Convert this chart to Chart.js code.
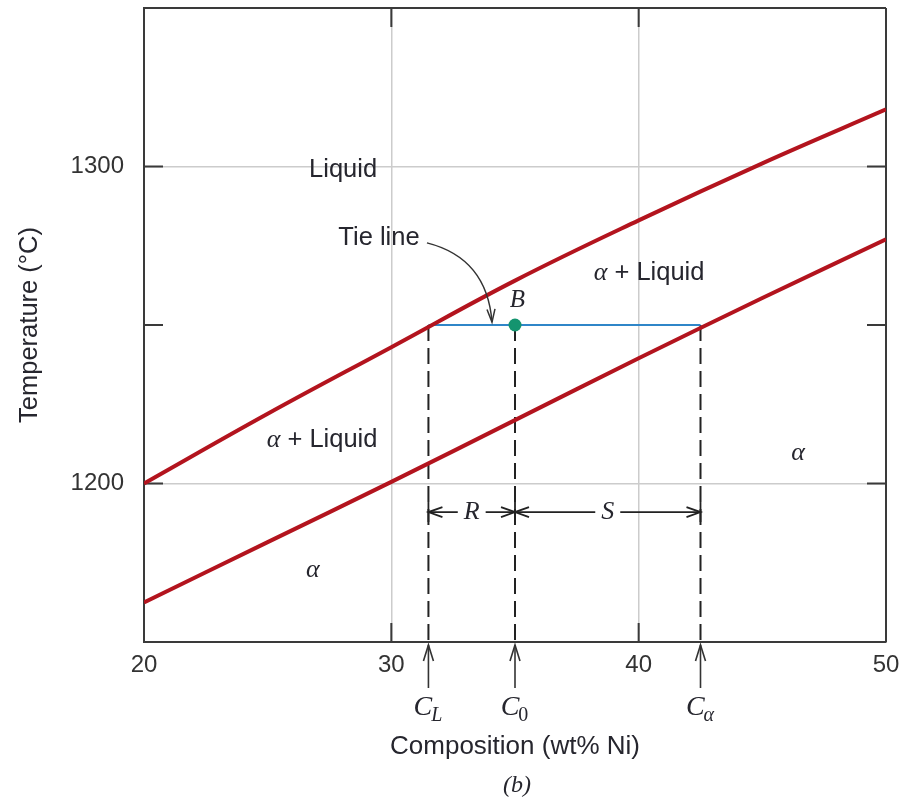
<!DOCTYPE html>
<html>
<head>
<meta charset="utf-8">
<script src="https://cdn.jsdelivr.net/npm/chart.js@4.4.0/dist/chart.umd.min.js"></script>
<style>
  html, body { margin: 0; padding: 0; background: #fff; }
  #wrap { width: 903px; height: 798px; position: relative; }
</style>
</head>
<body>
<div id="wrap"><canvas id="chart"></canvas></div>
<script>
// phase boundaries (wt% Ni, °C)
const composition = [20, 25, 30, 35, 40, 45, 50];
const liquidus = [1200, 1222, 1243, 1264, 1283, 1301, 1318];
const solidus  = [1162.5, 1181.5, 1200.5, 1220, 1239.5, 1258.5, 1277];

const xTicks = [20, 30, 40, 50];
const yTicks = [1150, 1200, 1250, 1300, 1350];
const yLabels = [1200, 1300];
const gridX = [30, 40];
const gridY = [1200, 1300];

// tie line at point B
const tieTemp = 1250;
const cL = 31.5, c0 = 35, cAlpha = 42.5;
const leverTemp = 1191;

const sans = '"Liberation Sans", Arial, sans-serif';
const serif = '"Liberation Serif", "DejaVu Serif", serif';
const red = '#b3141e';
const ink = '#26262e';

function pts(xs, ys) {
    return xs.map((x, i) => ({ x: x, y: ys[i] }));
}

function dashedDrop(x) {
    return {
        data: [{ x: x, y: tieTemp }, { x: x, y: 1150 }],
        showLine: true, borderColor: '#222', borderWidth: 2,
        borderDash: [16, 7], pointRadius: 0, order: 5
    };
}

// text labels placed in data coordinates
const regionLabels = [
    { parts: [['Liquid', 'n']], x: 28.05, y: 1299 },
    { parts: [['Tie line', 'n']], x: 29.5, y: 1277.5 },
    { parts: [['α', 'g'], [' + Liquid', 'n']], x: 40.42, y: 1266.4 },
    { parts: [['α', 'g'], [' + Liquid', 'n']], x: 27.2, y: 1213.7 },
    { parts: [['α', 'g']], x: 26.83, y: 1172.7 },
    { parts: [['α', 'g']], x: 46.44, y: 1209.6 },
    { parts: [['B', 'i']], x: 35.1, y: 1257.6 }
];
const tieArrow = { x0: 31.44, y0: 1275.9, cx: 33.87, cy: 1271.1, x1: 34.07, y1: 1250.9 };

function fontFor(kind) {
    if (kind === 'g') return 'italic 26px ' + serif;
    if (kind === 'i') return 'italic 25px ' + serif;
    return '25.5px ' + sans;
}

function drawParts(ctx, parts, cx, cy) {
    let w = 0;
    parts.forEach(p => { ctx.font = fontFor(p[1]); w += ctx.measureText(p[0]).width; });
    let x = cx - w / 2;
    ctx.textAlign = 'left';
    ctx.textBaseline = 'middle';
    parts.forEach(p => {
        ctx.font = fontFor(p[1]);
        ctx.fillText(p[0], x, cy);
        x += ctx.measureText(p[0]).width;
    });
}

function chevron(ctx, tx, ty, dx, dy, len, half) {
    // open arrow head with tip at (tx,ty) pointing along (dx,dy)
    const n = Math.hypot(dx, dy); dx /= n; dy /= n;
    const bx = tx - dx * len, by = ty - dy * len;
    ctx.beginPath();
    ctx.moveTo(bx - dy * half, by + dx * half);
    ctx.lineTo(tx, ty);
    ctx.lineTo(bx + dy * half, by - dx * half);
    ctx.stroke();
}

const framePlugin = {
    id: 'frame',
    beforeDatasetsDraw(chart) {
        const { ctx, chartArea: a, scales: { x, y } } = chart;
        ctx.save();
        ctx.strokeStyle = '#3a3a3a';
        ctx.lineWidth = 2;
        ctx.beginPath();
        ctx.moveTo(a.left, a.top); ctx.lineTo(a.right, a.top);
        ctx.moveTo(a.right, a.top); ctx.lineTo(a.right, a.bottom);
        xTicks.forEach(v => {
            const px = x.getPixelForValue(v);
            ctx.moveTo(px, a.bottom); ctx.lineTo(px, a.bottom - 19);
            ctx.moveTo(px, a.top); ctx.lineTo(px, a.top + 19);
        });
        [1200, 1250, 1300].forEach(v => {
            const py = y.getPixelForValue(v);
            ctx.moveTo(a.left, py); ctx.lineTo(a.left + 19, py);
            ctx.moveTo(a.right, py); ctx.lineTo(a.right - 19, py);
        });
        ctx.stroke();
        ctx.restore();
    },
    afterDatasetsDraw(chart) {
        const { ctx, chartArea: a, scales: { x, y } } = chart;
        ctx.save();
        ctx.fillStyle = ink;
        regionLabels.forEach(l => drawParts(ctx, l.parts, x.getPixelForValue(l.x), y.getPixelForValue(l.y)));

        // curved arrow pointing at the tie line
        ctx.strokeStyle = '#333';
        ctx.lineWidth = 1.5;
        const sx = x.getPixelForValue(tieArrow.x0), sy = y.getPixelForValue(tieArrow.y0);
        const qx = x.getPixelForValue(tieArrow.cx), qy = y.getPixelForValue(tieArrow.cy);
        const ex = x.getPixelForValue(tieArrow.x1), ey = y.getPixelForValue(tieArrow.y1);
        ctx.beginPath();
        ctx.moveTo(sx, sy);
        ctx.quadraticCurveTo(qx, qy, ex, ey);
        ctx.stroke();
        chevron(ctx, ex, ey, ex - qx, ey - qy, 13, 4);

        // R and S lever arms
        const ly = y.getPixelForValue(leverTemp);
        ctx.strokeStyle = '#222';
        ctx.lineWidth = 1.8;
        const ends = [cL, c0, cAlpha].map(v => x.getPixelForValue(v));
        ends.forEach(px => {
            ctx.beginPath(); ctx.moveTo(px, ly - 10); ctx.lineTo(px, ly + 10); ctx.stroke();
        });
        [['R', ends[0], ends[1]], ['S', ends[1], ends[2]]].forEach(seg => {
            const mid = (seg[1] + seg[2]) / 2;
            ctx.font = 'italic 26px ' + serif;
            const half = ctx.measureText(seg[0]).width / 2 + 6;
            ctx.beginPath();
            ctx.moveTo(seg[1], ly); ctx.lineTo(mid - half, ly);
            ctx.moveTo(mid + half, ly); ctx.lineTo(seg[2], ly);
            ctx.stroke();
            chevron(ctx, seg[1], ly, -1, 0, 14, 5);
            chevron(ctx, seg[2], ly, 1, 0, 14, 5);
            ctx.textAlign = 'center';
            ctx.textBaseline = 'middle';
            ctx.fillText(seg[0], mid, ly);
        });

        // composition arrows below the axis
        ctx.strokeStyle = '#333';
        ctx.lineWidth = 1.6;
        const subs = [['L', 'italic'], ['0', ''], ['α', 'italic']];
        ends.forEach((px, i) => {
            ctx.beginPath();
            ctx.moveTo(px, a.bottom + 46); ctx.lineTo(px, a.bottom + 3);
            ctx.stroke();
            chevron(ctx, px, a.bottom + 3, 0, -1, 16, 5);
            ctx.font = 'italic 28px ' + serif;
            const wc = ctx.measureText('C').width;
            ctx.font = subs[i][1] + ' 20px ' + serif;
            const ws = ctx.measureText(subs[i][0]).width;
            const left = px - (wc + ws) / 2;
            ctx.textAlign = 'left';
            ctx.textBaseline = 'alphabetic';
            ctx.font = 'italic 28px ' + serif;
            ctx.fillText('C', left, a.bottom + 73);
            ctx.font = subs[i][1] + ' 20px ' + serif;
            ctx.fillText(subs[i][0], left + wc - 1, a.bottom + 79);
        });

        // axis titles and caption
        ctx.textAlign = 'center';
        ctx.textBaseline = 'alphabetic';
        ctx.font = '26px ' + sans;
        ctx.fillText('Composition (wt% Ni)', x.getPixelForValue(c0), a.bottom + 112);
        ctx.font = 'italic 24px ' + serif;
        ctx.fillText('(b)', x.getPixelForValue(c0) + 2, a.bottom + 150);
        ctx.translate(30, y.getPixelForValue(1250));
        ctx.rotate(-Math.PI / 2);
        ctx.textBaseline = 'middle';
        ctx.font = '25.5px ' + sans;
        ctx.fillText('Temperature (°C)', 0, 0);
        ctx.restore();
    }
};

new Chart(document.getElementById('chart'), {
    type: 'scatter',
    data: {
        datasets: [
            { label: 'B', data: [{ x: c0, y: tieTemp }], pointRadius: 6.5, pointHoverRadius: 6.5,
              backgroundColor: '#14946f', borderWidth: 0, order: 0 },
            { label: 'Liquidus', data: pts(composition, liquidus), showLine: true, borderColor: red,
              borderWidth: 4, pointRadius: 0, tension: 0.4, order: 1 },
            { label: 'Solidus', data: pts(composition, solidus), showLine: true, borderColor: red,
              borderWidth: 4, pointRadius: 0, tension: 0.4, order: 2 },
            { label: 'Tie line', data: [{ x: cL, y: tieTemp }, { x: cAlpha, y: tieTemp }], showLine: true,
              borderColor: '#2f86c8', borderWidth: 2, pointRadius: 0, order: 3 },
            dashedDrop(cL), dashedDrop(c0), dashedDrop(cAlpha)
        ]
    },
    options: {
        responsive: true,
        maintainAspectRatio: false,
        animation: false,
        events: [],
        layout: { padding: { top: 8, right: 17, left: 0, bottom: 0 } },
        plugins: { legend: { display: false }, tooltip: { enabled: false } },
        scales: {
            x: {
                type: 'linear', min: 20, max: 50,
                afterFit: s => { s.height = 156; s.paddingLeft = 0; s.paddingRight = 0; },
                afterBuildTicks: s => { s.ticks = xTicks.map(v => ({ value: v })); },
                ticks: { autoSkip: false, maxRotation: 0, padding: 9, color: '#333', font: { family: sans, size: 24 } },
                grid: { drawTicks: false, lineWidth: 1.5,
                        color: c => gridX.includes(c.tick && c.tick.value) ? '#cccccc' : 'rgba(0,0,0,0)' },
                border: { color: '#3a3a3a', width: 2 }
            },
            y: {
                type: 'linear', min: 1150, max: 1350,
                afterFit: s => { s.width = 144; s.paddingTop = 0; s.paddingBottom = 0; },
                afterBuildTicks: s => { s.ticks = yTicks.map(v => ({ value: v })); },
                ticks: { autoSkip: false, padding: 20, color: '#333', font: { family: sans, size: 24 },
                         callback: v => yLabels.includes(v) ? String(v) : '' },
                grid: { drawTicks: false, lineWidth: 1.5,
                        color: c => gridY.includes(c.tick && c.tick.value) ? '#cccccc' : 'rgba(0,0,0,0)' },
                border: { color: '#3a3a3a', width: 2 }
            }
        }
    },
    plugins: [framePlugin]
});
</script>
</body>
</html>
